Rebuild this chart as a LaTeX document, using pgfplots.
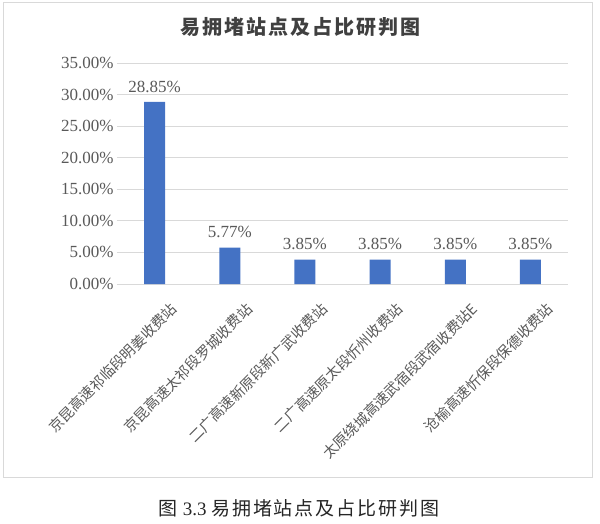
\documentclass[border=0pt]{standalone}
\usepackage{fontspec}
\setmainfont{Liberation Serif}
\newfontfamily\cjk{Noto Sans CJK SC}
\newfontfamily\cjksp[LetterSpace=10]{Noto Sans CJK SC}
\usepackage{pgfplots}
\pgfplotsset{compat=1.18}
\definecolor{barblue}{HTML}{4472C4}
\definecolor{gridgray}{HTML}{D9D9D9}
\definecolor{txtgray}{HTML}{595959}

\begin{document}
\begin{tikzpicture}[x=1pt,y=1pt]
\useasboundingbox (0,0) rectangle (600,523);
\draw[gridgray, line width=1pt] (3,46) rectangle (592,520);
\node[font=\cjksp\bfseries\fontsize{20}{24}\selectfont, text=black!75] at (300,496) {易拥堵站点及占比研判图};
\node[font=\fontsize{19}{24}\selectfont, text=black!85] at (299,15) {{\cjksp 图}\hspace{5pt}3.3 {\cjksp 易拥堵站点及占比研判图}};

\begin{axis}[
  at={(117pt,239pt)}, anchor=south west,
  scale only axis, width=451pt, height=221pt,
  xmin=-0.5, xmax=5.5, ymin=0, ymax=35,
  ytick={0,5,...,35},
  xtick=data,
  xticklabels={京昆高速祁临段明姜收费站, 京昆高速太祁段罗城收费站, 二广高速新原段新广武收费站, 二广高速原太段忻州收费站, 太原绕城高速武宿段武宿收费站E, 沧榆高速忻保段保德收费站},
  ybar, bar width=21pt,
  axis line style={draw=none}, tick style={draw=none},
  ymajorgrids, grid style={gridgray, line width=0.8pt},
  /pgf/number format/assume math mode=true,
  yticklabel={\pgfmathprintnumber[fixed,fixed zerofill,precision=2]{\tick}\%},
  yticklabel style={font=\fontsize{17}{20}\selectfont, text=txtgray},
  xticklabel style={font=\cjk\fontsize{14.5}{17}\selectfont, rotate=45, anchor=east, text=txtgray, xshift=4.7pt, yshift=-26.7pt},
  point meta=y,
  nodes near coords={\pgfmathprintnumber[fixed,fixed zerofill,precision=2]{\pgfplotspointmeta}\%},
  nodes near coords style={font=\fontsize{17}{20}\selectfont, text=txtgray, yshift=6pt},
]
\addplot[fill=barblue, draw=none] coordinates {(0,28.85) (1,5.77) (2,3.85) (3,3.85) (4,3.85) (5,3.85)};
\end{axis}
\end{tikzpicture}
\end{document}
